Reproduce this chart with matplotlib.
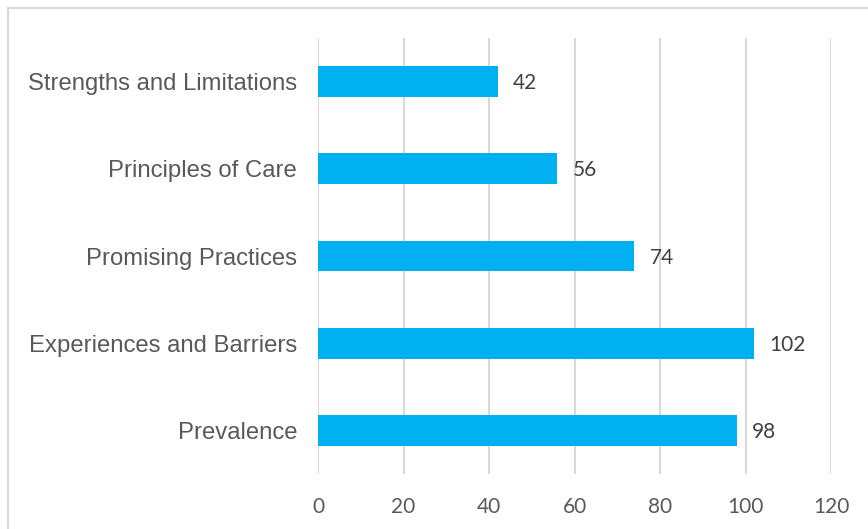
import matplotlib
matplotlib.use("Agg")
import matplotlib.pyplot as plt
from matplotlib.lines import Line2D

categories = ["Prevalence", "Experiences and Barriers", "Promising Practices",
              "Principles of Care", "Strengths and Limitations"]
values = [98, 102, 74, 56, 42]
xticks = [0, 20, 40, 60, 80, 100, 120]

fig = plt.figure(figsize=(8.68, 5.29), dpi=100)
ax = fig.add_axes([318/868, 1-474/529, (831-318)/868, (474-38)/529])

ypos = list(range(len(categories)))
bars = ax.barh(ypos, values, height=0.355, color="#00B0F0", zorder=3)
ax.set_xlim(0, 120)
ax.set_ylim(-0.5, len(categories) - 0.5)
ax.set_xticks(xticks)
ax.set_xticklabels([str(t) for t in xticks], fontfamily="Lato", fontsize=15, color="#595959")
ax.set_yticks(ypos)
ax.set_yticklabels(categories, fontfamily="Liberation Sans", fontsize=17.2, color="#595959")
ax.tick_params(axis="x", length=0, pad=16.5)
ax.tick_params(axis="y", length=0, pad=15)
ax.grid(axis="x", color="#D9D9D9", linewidth=1.5, zorder=0)
for s in ax.spines.values():
    s.set_visible(False)

for b, v in zip(bars, values):
    ax.annotate(str(v), xy=(b.get_width(), b.get_y() + b.get_height()/2),
                xytext=(11, -1.2), textcoords="offset points", va="center", ha="left",
                fontfamily="Lato", fontsize=15, color="#404040")

# chart border (left and top visible)
fig.add_artist(Line2D([8/868, 8/868], [0, 1-8/529], transform=fig.transFigure,
                      color="#D9D9D9", linewidth=1.5))
fig.add_artist(Line2D([8/868, 1], [1-8/529, 1-8/529], transform=fig.transFigure,
                      color="#D9D9D9", linewidth=1.5))

fig.savefig("out.png", dpi=100)
